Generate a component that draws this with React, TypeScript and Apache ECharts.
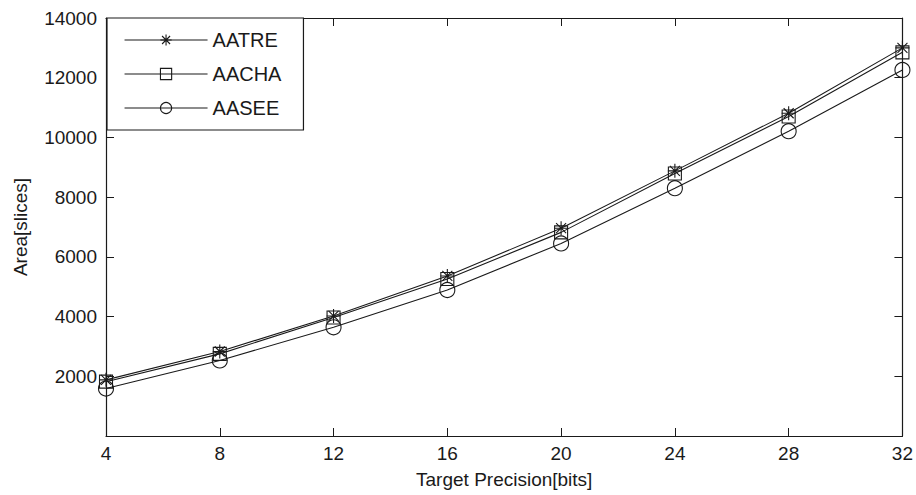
import React, { useEffect, useRef } from "react";
import * as echarts from "echarts";

const precisionBits = [4, 8, 12, 16, 20, 24, 28, 32];
const aatre = [1880, 2830, 4020, 5360, 6960, 8880, 10810, 13000];
const aacha = [1820, 2750, 3970, 5260, 6820, 8790, 10700, 12850];
const aasee = [1590, 2530, 3640, 4890, 6450, 8300, 10210, 12260];
const seriesNames = ["AATRE", "AACHA", "AASEE"];

const FONT = "'Liberation Sans', Arial, Helvetica, sans-serif";
const INK = "#1a1a1a";

const STAR = "path://M0,7L14,7M7,0L7,14M2,2L12,12M12,2L2,12";
const SQUARE = "path://M0,0L12,0L12,12L0,12Z";

export default function App() {
  const ref = useRef<HTMLDivElement>(null);
  useEffect(() => {
    if (!ref.current) return;
    const chart = echarts.init(ref.current, null, { renderer: "svg" });
    const pairs = (ys: number[]) => precisionBits.map((x, i) => [x, ys[i]]);
    const mk = (name: string, ys: number[], symbol: string, size: number) => ({
      name,
      type: "line",
      data: pairs(ys),
      symbol,
      symbolSize: size,
      showAllSymbol: true,
      lineStyle: { color: INK, width: 1.1 },
      itemStyle: { color: "none", borderColor: INK, borderWidth: 1.1 },
      emphasis: { disabled: true },
      z: 3,
    });
    const axisCommon = {
      axisLine: { show: true, onZero: false, lineStyle: { color: INK, width: 1.2 } },
      axisTick: { show: true, inside: true, length: 8, lineStyle: { color: INK, width: 1 } },
      splitLine: { show: false },
    };
    chart.setOption({
      animation: false,
      backgroundColor: "#fff",
      textStyle: { fontFamily: FONT },
      grid: { left: 106, right: 12, top: 18, bottom: 59, containLabel: false },
      legend: {
        show: true,
        data: seriesNames,
        orient: "vertical",
        left: 107,
        top: 18,
        padding: [12, 22, 12, 17],
        itemWidth: 83,
        itemHeight: 14,
        itemGap: 14,
        itemStyle: { color: "none", borderColor: INK, borderWidth: 1.1 },
        lineStyle: { color: INK, width: 1.1 },
        backgroundColor: "#fff",
        borderColor: INK,
        borderWidth: 1.2,
        borderRadius: 0,
        textStyle: { fontFamily: FONT, fontSize: 20, color: INK, lineHeight: 19, padding: [0, 0, 0, 0] },
        itemTextGap: 11,
        selectedMode: false,
      },
      xAxis: [
        {
          type: "value",
          min: 4,
          max: 32,
          interval: 4,
          position: "bottom",
          name: "Target Precision[bits]",
          nameLocation: "middle",
          nameGap: 34,
          nameTextStyle: { fontFamily: FONT, fontSize: 19, color: INK },
          axisLabel: { show: true, margin: 8, fontFamily: FONT, fontSize: 19, color: INK },
          ...axisCommon,
        },
        {
          type: "value",
          min: 4,
          max: 32,
          interval: 4,
          position: "top",
          axisLabel: { show: false },
          ...axisCommon,
        },
      ],
      yAxis: [
        {
          type: "value",
          min: 0,
          max: 14000,
          interval: 2000,
          position: "left",
          name: "Area[slices]",
          nameLocation: "middle",
          nameGap: 76,
          nameTextStyle: { fontFamily: FONT, fontSize: 19, color: INK },
          axisLabel: {
            show: true,
            margin: 9,
            fontFamily: FONT,
            fontSize: 19,
            color: INK,
            formatter: (v: number) => (v === 0 ? "" : String(v)),
          },
          ...axisCommon,
        },
        {
          type: "value",
          min: 0,
          max: 14000,
          interval: 2000,
          position: "right",
          axisLabel: { show: false },
          ...axisCommon,
        },
      ],
      series: [
        mk(seriesNames[0], aatre, STAR, 14),
        mk(seriesNames[1], aacha, SQUARE, 13),
        mk(seriesNames[2], aasee, "circle", 15),
      ],
    });
    return () => chart.dispose();
  }, []);
  return (
    <div
      ref={ref}
      style={{ position: "fixed", left: 0, top: 0, width: 916, height: 495, background: "#fff" }}
    />
  );
}
